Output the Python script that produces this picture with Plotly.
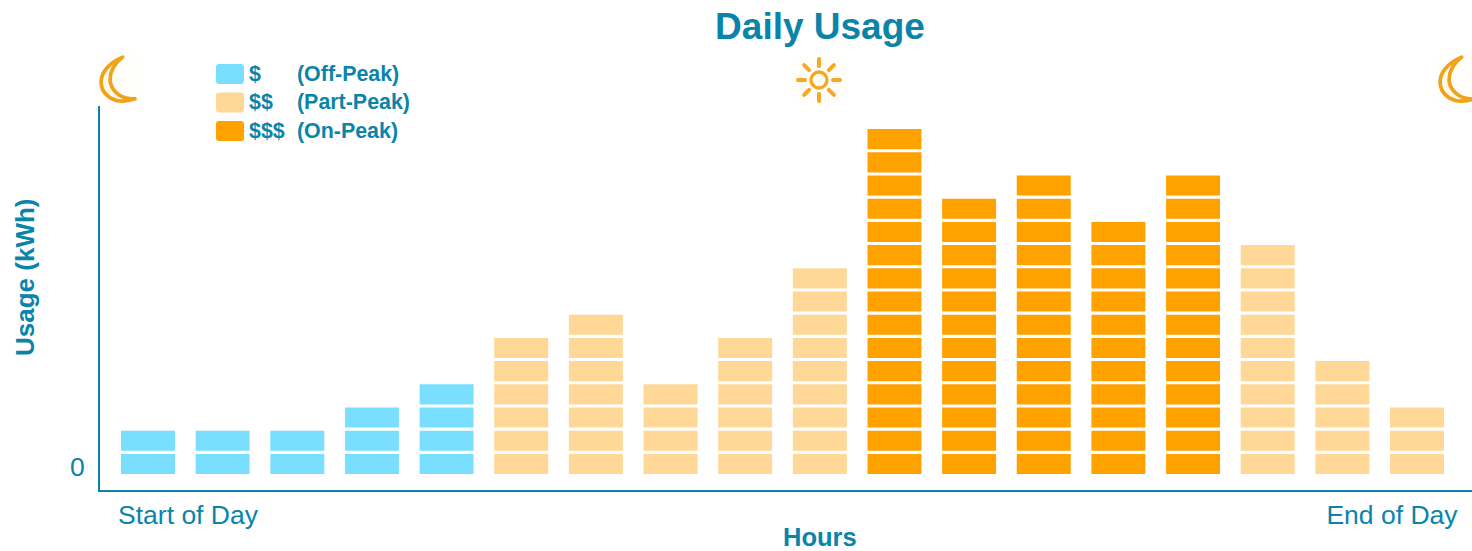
import base64
import plotly.graph_objects as go

hours = list(range(1, 19))
usage_blocks = [2, 2, 2, 3, 4, 6, 7, 4, 6, 9, 15, 12, 13, 11, 13, 10, 5, 3]
tiers = ["off", "off", "off", "off", "off", "part", "part", "part", "part", "part",
         "on", "on", "on", "on", "on", "part", "part", "part"]
tier_names = {"off": "$ (Off-Peak)", "part": "$$ (Part-Peak)", "on": "$$$ (On-Peak)"}
tier_colors = {"off": "#7ADFFF", "part": "#FFD898", "on": "#FFA200"}
legend_rows = [("off", "$", "(Off-Peak)"), ("part", "$$", "(Part-Peak)"), ("on", "$$$", "(On-Peak)")]
teal = "#0A84A8"
W, H = 1472, 551
L, T, B = 100, 55, 490
PW, PH = W - L, B - T
FONT = "Liberation Sans, Arial, sans-serif"


def px(x):
    return (x - L) / PW


def py(y):
    return 1 - (y - T) / PH


def uri(svg):
    return "data:image/svg+xml;base64," + base64.b64encode(svg.encode()).decode()


BLUR = '<filter id="b" x="-10%" y="-10%" width="120%" height="120%"><feGaussianBlur stdDeviation="0.55"/></filter>'
moon = uri('<svg xmlns="http://www.w3.org/2000/svg" viewBox="0 0 40 50" width="160" height="200">'
           f'<defs>{BLUR}</defs><rect width="40" height="50" fill="#FFFEFB"/>'
           '<path filter="url(#b)" d="M24 3 C10 9 3 18 3 27 C3 39 16 50 36 43 C24 44 14 37 12 27 C11 18 15 10 24 3 Z" '
           'fill="#FFF9EA" stroke="#EFA31A" stroke-width="3.6" stroke-linejoin="round"/></svg>')
rays = "".join(f'<line x1="27" y1="4" x2="27" y2="11" transform="rotate({a} 27 25)"/>'
               for a in range(0, 360, 45))
sun = uri('<svg xmlns="http://www.w3.org/2000/svg" viewBox="0 0 54 50" width="216" height="200">'
          f'<defs>{BLUR}</defs><rect width="54" height="50" fill="#FFFEFA"/>'
          f'<g filter="url(#b)"><g stroke="#F7A823" stroke-width="4" stroke-linecap="round">{rays}</g>'
          '<circle cx="27" cy="25" r="8" fill="#FFFDF5" stroke="#F7A823" stroke-width="3.4"/></g></svg>')

fig = go.Figure()
for tier in ["off", "part", "on"]:
    xs, bases = [], []
    for h, n, t in zip(hours, usage_blocks, tiers):
        if t == tier:
            xs += [h] * n
            bases += list(range(n))
    fig.add_bar(x=xs, y=[0.865] * len(xs), base=bases, width=0.723, name=tier_names[tier],
                marker=dict(color=tier_colors[tier], line=dict(width=0)))

images = [
    dict(source=moon, xref="paper", yref="paper", x=px(98), y=py(54), sizex=41 / PW, sizey=52 / PH,
         xanchor="left", yanchor="top", sizing="stretch", layer="above"),
    dict(source=sun, xref="paper", yref="paper", x=px(792), y=py(55), sizex=54 / PW, sizey=50 / PH,
         xanchor="left", yanchor="top", sizing="stretch", layer="above"),
    dict(source=moon, xref="paper", yref="paper", x=px(1437), y=py(54), sizex=41 / PW, sizey=52 / PH,
         xanchor="left", yanchor="top", sizing="stretch", layer="above"),
]

shapes, annotations = [], []
for i, (tier, sym, label) in enumerate(legend_rows):
    yc = 74 + i * 28.5
    t, b = py(yc - 10), py(yc + 10)
    l, r = px(216), px(244)
    dx, dy = 3 / PW, 3 / PH
    path = (f"M {l+dx} {t} L {r-dx} {t} Q {r} {t} {r} {t-dy} L {r} {b+dy} Q {r} {b} {r-dx} {b} "
            f"L {l+dx} {b} Q {l} {b} {l} {b+dy} L {l} {t-dy} Q {l} {t} {l+dx} {t} Z")
    shapes.append(dict(type="path", xref="paper", yref="paper", path=path,
                       fillcolor=tier_colors[tier], line=dict(width=0)))
    for x0, txt in ((249, sym), (297, label)):
        annotations.append(dict(text=f"<b>{txt}</b>", xref="paper", yref="paper", x=px(x0), y=py(yc - 0.5),
                                xanchor="left", yanchor="middle", showarrow=False, xshift=-2,
                                font=dict(size=21.4, color=teal, family=FONT)))

annotations.append(dict(text="<b>Hours</b>", xref="paper", yref="paper", x=px(820), y=py(537),
                        xanchor="center", yanchor="middle", showarrow=False,
                        font=dict(size=25.5, color=teal, family=FONT)))
annotations.append(dict(text="<b>Usage (kWh)</b>", xref="paper", yref="paper", x=px(25), y=py(278),
                        xanchor="center", yanchor="middle", showarrow=False, textangle=-90,
                        font=dict(size=26, color=teal, family=FONT)))

fig.update_layout(
    width=W, height=H, barmode="overlay", showlegend=False,
    paper_bgcolor="white", plot_bgcolor="white",
    margin=dict(l=L, r=0, t=T, b=H - B),
    title=dict(text="<b>Daily Usage</b>", x=820 / W, xanchor="center", y=1 - 26 / H, yanchor="middle",
               font=dict(size=37, color=teal, family=FONT)),
    xaxis=dict(range=[0.357, 18.737], tickvals=[1.536, 17.665], ticktext=["Start of Day", "End of Day"],
               showgrid=False, zeroline=False, showline=True, linecolor=teal, linewidth=2, ticks="",
               tickfont=dict(size=26.5, color=teal, family=FONT)),
    yaxis=dict(range=[-0.69, 18.06], tickvals=[0.3], ticktext=["0"], ticklabelstandoff=8,
               showgrid=False, zeroline=False, showline=True, linecolor=teal, linewidth=2, ticks="",
               tickfont=dict(size=26.5, color=teal, family=FONT)),
    images=images, shapes=shapes, annotations=annotations,
)
fig.write_html("out.html", config={"displayModeBar": False},
               post_script="document.body.style.margin='0';document.body.style.overflow='hidden';")
